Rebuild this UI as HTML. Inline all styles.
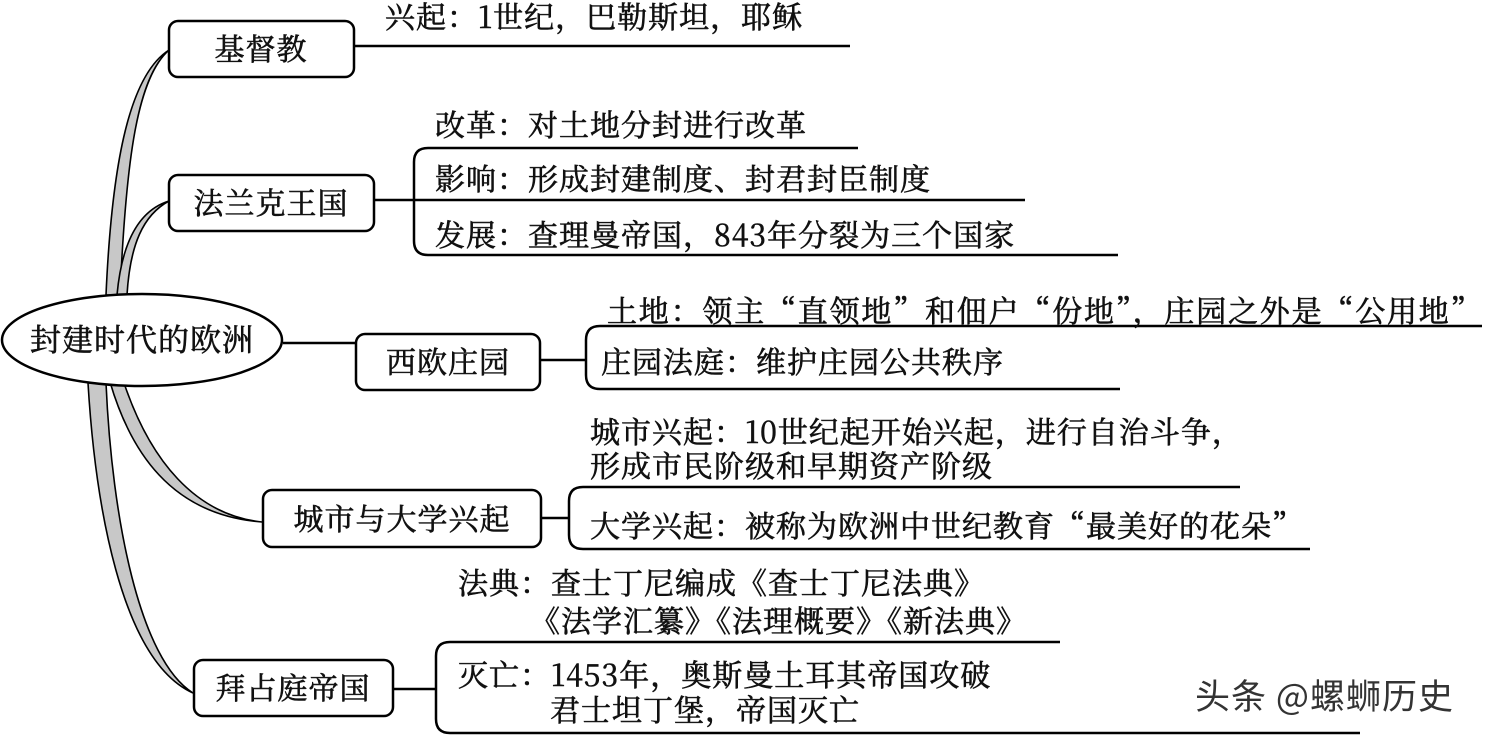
<!DOCTYPE html>
<html><head><meta charset="utf-8"><style>
html,body{margin:0;padding:0;background:#fff;}
svg{display:block;}
text{font-family:"Noto Serif CJK SC","Noto Sans CJK SC","Liberation Serif",serif;font-size:30px;letter-spacing:1px;fill:#111;stroke:#111;stroke-width:0.6px;}
</style></head><body>
<svg width="1488" height="738" viewBox="0 0 1488 738" xmlns="http://www.w3.org/2000/svg">
<g fill="#c8c8c8" stroke="#000" stroke-width="1.6">
<path d="M106,295 C112,160 130,75 169,50 C137,78 126,160 120,295 Z"/>
<path d="M117,295 C122,240 140,210 169,201 C143,215 130,245 127,295 Z"/>
<path d="M110,382 C130,450 170,515 262,522 C195,515 150,460 124,383 Z"/>
<path d="M88,383 C95,500 120,660 193,693 C140,660 112,520 106,383 Z"/>
</g>
<g fill="#fff" stroke="#000" stroke-width="2.5">
<ellipse cx="142" cy="340" rx="140" ry="46"/>
<rect x="169" y="21" width="185" height="56" rx="9"/>
<rect x="169" y="175" width="205" height="56" rx="9"/>
<rect x="356" y="334" width="184" height="56" rx="9"/>
<rect x="263" y="490" width="278" height="57" rx="9"/>
<rect x="194" y="660" width="199" height="56" rx="9"/>
</g>
<g fill="none" stroke="#000" stroke-width="2.5">
<path d="M354,46 H850"/>
<path d="M374,200 H413"/>
<path d="M858,148 H428 Q414,148 414,162 V241 Q414,255 428,255 H1118"/>
<path d="M414,200 H1025"/>
<path d="M283,343 H356"/>
<path d="M540,360 H586"/>
<path d="M1482,326 H600 Q586,326 586,340 V375 Q586,389 600,389 H1120"/>
<path d="M541,518 H569"/>
<path d="M1240,487 H583 Q569,487 569,501 V535 Q569,549 583,549 H1310"/>
<path d="M393,689 H436"/>
<path d="M1060,642 H450 Q436,642 436,656 V719 Q436,733 450,733 H1360"/>
</g>
<g>
<text x="142" y="351" text-anchor="middle" style="font-size:31px">封建时代的欧洲</text>
<text x="261" y="60" text-anchor="middle">基督教</text>
<text x="271" y="214" text-anchor="middle">法兰克王国</text>
<text x="448" y="373" text-anchor="middle">西欧庄园</text>
<text x="402" y="530" text-anchor="middle">城市与大学兴起</text>
<text x="293" y="699" text-anchor="middle">拜占庭帝国</text>
</g>
<text x="385" y="28">兴起：1世纪，巴勒斯坦，耶稣</text>
<text x="435" y="136">改革：对土地分封进行改革</text>
<text x="435" y="190">影响：形成封建制度、封君封臣制度</text>
<text x="435" y="246">发展：查理曼帝国，843年分裂为三个国家</text>
<text x="607" y="322" style="letter-spacing:1.8px">土地：领主“直领地”和佃户“份地”，庄园之外是“公用地”</text>
<text x="601" y="373">庄园法庭：维护庄园公共秩序</text>
<text x="590" y="443">城市兴起：10世纪起开始兴起，进行自治斗争，</text>
<text x="590" y="477">形成市民阶级和早期资产阶级</text>
<text x="590" y="537">大学兴起：被称为欧洲中世纪教育“最美好的花朵”</text>
<text x="458" y="594">法典：查士丁尼编成《查士丁尼法典》</text>
<text x="530" y="632">《法学汇纂》《法理概要》《新法典》</text>
<text x="458" y="686">灭亡：1453年，奥斯曼土耳其帝国攻破</text>
<text x="550" y="721">君士坦丁堡，帝国灭亡</text>
<text x="1195" y="709" style="font-family:'Noto Sans CJK SC','Liberation Sans',sans-serif;font-size:35px;letter-spacing:1px;fill:#333;stroke:none">头条 @螺蛳历史</text>
</svg>
</body></html>
